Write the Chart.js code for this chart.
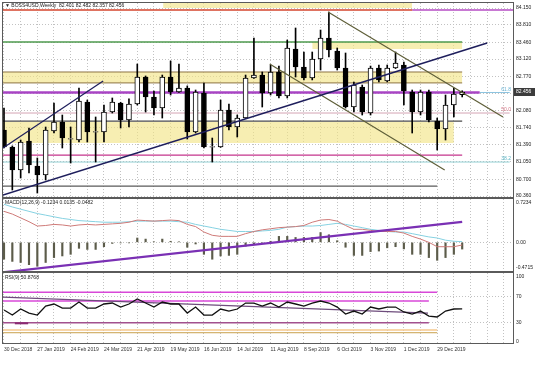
<!DOCTYPE html>
<html><head><meta charset="utf-8">
<script src="https://cdn.jsdelivr.net/npm/chart.js@4.4.1/dist/chart.umd.min.js"></script>
<style>
html,body{margin:0;padding:0;background:#fff;}
body{width:536px;height:381px;position:relative;overflow:hidden;}
canvas{position:absolute;left:0;display:block;}
</style></head>
<body>
<canvas id="main" width="536" height="198" style="top:0"></canvas>
<canvas id="macd" width="536" height="74" style="top:198px"></canvas>
<canvas id="rsi" width="536" height="109" style="top:272px"></canvas>
<script>
// ---------------- DATA ----------------
const dates = ['30 Dec 2018','27 Jan 2019','24 Feb 2019','24 Mar 2019','21 Apr 2019','19 May 2019','16 Jun 2019','14 Jul 2019','11 Aug 2019','8 Sep 2019','6 Oct 2019','3 Nov 2019','1 Dec 2019','29 Dec 2019'];
const symbolTitle = 'BOSS4USD,Weekly';
const lastQuote = ['82.401','82.482','82.357','82.456'];

const openP  = [81.690,81.348,80.884,81.469,80.965,80.783,81.670,81.852,81.509,81.489,82.255,81.650,81.650,82.053,82.235,81.892,82.215,82.759,82.356,82.134,82.759,82.457,82.537,81.650,82.436,81.348,81.348,82.094,81.751,81.932,82.739,82.799,82.436,82.860,82.376,83.323,82.961,82.739,83.122,83.545,83.283,82.940,82.154,82.557,82.033,82.940,82.678,82.940,83.001,82.457,82.053,82.457,81.872,81.711,82.194,82.401];
const highP  = [82.134,81.370,81.489,81.731,81.126,81.751,82.235,81.993,81.751,82.537,82.295,81.953,82.194,82.336,82.250,82.320,83.021,82.780,82.477,82.799,83.082,83.021,82.580,82.497,82.638,81.529,82.295,82.215,81.993,82.799,83.545,82.860,83.001,82.980,83.505,83.747,83.263,83.263,83.706,84.069,83.344,83.243,82.658,82.598,82.980,83.001,83.001,83.263,83.060,82.497,82.497,82.497,81.932,82.396,82.537,82.482];
const lowP   = [81.330,80.481,80.723,80.824,80.420,80.683,81.630,81.328,81.025,81.448,81.448,81.045,81.448,82.033,81.731,81.751,82.194,82.053,81.993,81.932,82.396,82.450,81.509,81.630,81.328,81.045,81.340,81.690,81.549,81.920,82.730,82.154,82.396,82.336,82.336,82.759,82.698,82.700,82.900,83.162,82.900,82.134,82.053,81.993,81.993,82.660,82.660,82.930,82.194,81.630,81.993,81.852,81.287,81.489,81.953,82.357];
const closeP = [81.348,80.884,81.448,80.985,80.783,81.690,81.852,81.529,81.515,82.275,81.650,81.655,82.053,82.255,81.892,82.215,82.759,82.356,82.134,82.759,82.457,82.537,81.650,82.457,81.348,81.355,82.094,81.751,81.932,82.739,82.799,82.436,82.860,82.376,83.344,82.961,82.739,83.122,83.545,83.303,82.940,82.154,82.598,82.053,82.940,82.698,82.940,83.041,82.477,82.053,82.457,81.892,81.711,82.194,82.416,82.456];
const priceTicks = [84.150,83.810,83.460,83.120,82.770,82.430,82.080,81.740,81.390,81.050,80.700,80.360];

const macdLine   = [0.57,0.52,0.45,0.38,0.30,0.31,0.33,0.32,0.30,0.32,0.33,0.32,0.33,0.34,0.35,0.37,0.41,0.40,0.39,0.40,0.41,0.40,0.33,0.29,0.19,0.13,0.11,0.11,0.11,0.16,0.20,0.23,0.25,0.27,0.28,0.29,0.31,0.37,0.41,0.42,0.39,0.31,0.24,0.24,0.22,0.20,0.20,0.20,0.17,0.11,0.06,0.00,-0.08,-0.08,-0.08,-0.0482];
const macdSignal = [0.70,0.65,0.61,0.57,0.53,0.50,0.47,0.44,0.42,0.40,0.39,0.38,0.37,0.37,0.37,0.38,0.39,0.39,0.39,0.39,0.39,0.38,0.37,0.33,0.30,0.27,0.24,0.22,0.20,0.20,0.20,0.21,0.22,0.24,0.28,0.29,0.30,0.30,0.31,0.33,0.35,0.33,0.30,0.27,0.24,0.22,0.20,0.19,0.19,0.16,0.13,0.10,0.08,0.04,0.02,0.0135];
const macdHist   = [-0.31,-0.35,-0.37,-0.41,-0.44,-0.37,-0.28,-0.25,-0.22,-0.11,-0.13,-0.13,-0.08,-0.02,-0.01,-0.01,0.08,0.06,0.01,0.06,0.02,0.01,-0.09,-0.03,-0.22,-0.31,-0.25,-0.24,-0.22,-0.07,-0.03,-0.02,0.02,0.11,0.11,0.09,0.09,0.09,0.18,0.14,0.03,-0.09,-0.24,-0.24,-0.17,-0.16,-0.10,-0.08,-0.12,-0.22,-0.22,-0.28,-0.33,-0.28,-0.22,-0.1234];
const macdTicks = [0.7234, 0, -0.4715];

const rsiVals = [49.2,41.5,50.8,44.6,41.5,55.4,58.5,52.3,52.3,61.5,52.3,52.3,58.5,60.0,53.8,58.5,66.2,60.0,53.8,61.5,58.5,58.5,44.6,53.8,41.5,41.5,50.8,47.7,50.8,60.0,60.0,55.4,60.0,53.8,61.5,58.5,55.4,60.0,63.1,60.0,53.8,43.1,47.7,43.1,53.8,50.8,53.8,53.8,46.2,43.1,47.7,40.0,38.5,47.7,50.8,50.8768];
const rsiTicks = [100, 70, 30, 0];

// drawn objects: [startWeek, endWeek, level(s)]
const zones = [[19.1,49,84.251,84.15],[37,55,83.465,83.323],[-0.12,55,82.86,82.64],[-0.12,54,81.85,81.43]];
const hLevels = [84.11,84.11,83.465,82.86,82.64,82.447,82.447,82.033,81.87,81.186,81.045,80.56];
const hSpans  = [[-0.12,49],[49,61.1],[-0.12,55],[-0.12,55],[-0.12,55],[-0.12,57.1],[57.1,60.7],[-0.12,60.7],[-0.12,55],[-0.12,55],[-0.12,60.7],[-0.12,52]];
const trendLines = [[-0.12,81.328,11.9,82.678],[-0.12,80.38,58,83.444],[38.9,84.069,59.9,81.953],[31.9,83.021,52.9,80.884]];
const fibNames  = ['61.8','50.0','38.2'];
const fibLevels = [82.447,82.033,81.045];
const macdTrend = [-0.12,-0.55,55,0.375];
const rsiLevels = [76.5,63.1,29.7,18.5,14.3];
const rsiSpans  = [[-0.12,52],[-0.12,51],[-0.12,51],[-0.12,52],[-0.12,52]];
const rsiMark   = [1.3,2.9,28.8];
const rsiTrend  = [-0.12,69.2,50.9,44.6];

// ---------------- STYLE / BUILD ----------------
Chart.defaults.font.family = "'Liberation Sans', Arial, sans-serif";
const FONT = "5px 'Liberation Sans', Arial, sans-serif";
const X_MIN = -0.12, X_MAX = 61.1;
const GRID = '#c2c2c2';
const hStyles = [
  ['#d4452c',1.5],['#b64cc4',1.5],['#4e9a4e',1.5],['#8c7444',1],['#8c7444',1],
  ['#a844c4',2.5],['#8cc4e0',1],['#d4a4b4',1],['#4a4a4a',1.2],['#c4348c',1.2],['#94d0d4',1],['#5a5a5a',1.2]];
const trendStyles = [['#1e1e5c',1.2],['#1e1e5c',1.5],['#5e5e38',1.2],['#5e5e38',1.2]];
const fibColors = ['#6ab4d4','#d47484','#5cb4c4'];
const rsiStyles = [['#d848d8',1.5],['#d848d8',1.5],['#a2508e',1.5],['#f6c88e',1.5],['#c8a04c',1]];

function seg(x0,y0,x1,y1,color,w,order,extra){
  return Object.assign({type:'line',data:[{x:x0,y:y0},{x:x1,y:y1}],borderColor:color,borderWidth:w,
    pointRadius:0,fill:false,tension:0,order:order}, extra||{});
}
function xAxis(withLabels){
  return {type:'linear',min:X_MIN,max:X_MAX,offset:false,
    afterBuildTicks:s=>{const t=[];for(let v=0;v<=60;v+=2)t.push({value:v});s.ticks=t;},
    afterFit:s=>{s.height=withLabels?38:0;s.paddingLeft=0;s.paddingRight=0;},
    grid:{color:GRID,lineWidth:1,drawTicks:false,offset:false},
    border:{display:false,dash:[1,2]},
    ticks:{display:withLabels,autoSkip:false,maxRotation:0,minRotation:0,align:'start',padding:4,
      font:{size:5},color:'#333',
      callback:v=>(v%4===0&&v/4<dates.length)?dates[v/4]:''}
  };
}
function yAxis(min,max,ticks,labelFn,gridFn){
  return {position:'right',min:min,max:max,
    afterBuildTicks:s=>{s.ticks=ticks.map(v=>({value:v}));},
    afterFit:s=>{s.width=23;s.paddingTop=0;s.paddingBottom=0;},
    grid:{drawTicks:false,color:gridFn||GRID,lineWidth:1},
    border:{display:false,dash:[1,2]},
    ticks:{padding:3,font:{size:5},color:'#222',callback:labelFn}
  };
}
const frame = {id:'frame',afterDraw(chart){
  const {ctx,chartArea:a}=chart; ctx.save(); ctx.strokeStyle='#5a5a5a'; ctx.lineWidth=1;
  ctx.strokeRect(a.left-0.5,a.top-0.5,a.right-a.left+1,a.bottom-a.top+1); ctx.restore();}};
const baseOpts = {responsive:false,animation:false,events:[],devicePixelRatio:1,
  plugins:{legend:{display:false},tooltip:{enabled:false}}};

// ---- main price panel ----
const idx = openP.map((_,i)=>i);
const bodyData = idx.map(i=>{let a=Math.min(openP[i],closeP[i]),b=Math.max(openP[i],closeP[i]);
  if(b-a<0.012){const m=(a+b)/2;a=m-0.006;b=m+0.006;} return {x:i,y:[a,b]};});
const wickData = idx.map(i=>({x:i,y:[lowP[i],highP[i]]}));
const bodyFill = idx.map(i=>closeP[i]>=openP[i]?'#ffffff':'#000000');

const mainSets = [];
zones.forEach(z=>mainSets.push(seg(z[0],z[2],z[1],z[2],'rgba(0,0,0,0)',0,30,
  {backgroundColor:'rgba(242,228,130,0.62)',fill:{value:z[3]}})));
hLevels.forEach((v,i)=>mainSets.push(seg(hSpans[i][0],v,hSpans[i][1],v,hStyles[i][0],hStyles[i][1],20)));
mainSets.push({type:'bar',data:wickData,backgroundColor:'#000',borderWidth:0,barThickness:1,grouped:false,order:6});
mainSets.push({type:'bar',data:bodyData,backgroundColor:bodyFill,borderColor:'#000',borderWidth:1,
  borderSkipped:false,barThickness:5,grouped:false,order:5});
trendLines.forEach((t,i)=>mainSets.push(seg(t[0],t[1],t[2],t[3],trendStyles[i][0],trendStyles[i][1],1)));

const mainText = {id:'mainText',afterDraw(chart){
  const {ctx,chartArea:a,scales:{y}}=chart; ctx.save(); ctx.font=FONT; ctx.textBaseline='middle';
  ctx.textAlign='right';
  fibLevels.forEach((v,i)=>{ctx.fillStyle=fibColors[i]; ctx.fillText(fibNames[i],a.right-2,y.getPixelForValue(v)-3);});
  const py=y.getPixelForValue(parseFloat(lastQuote[3]));
  ctx.fillStyle='#3c3c3c'; ctx.fillRect(a.right+1,Math.round(py)-4,21,8);
  ctx.fillStyle='#fff'; ctx.textAlign='left'; ctx.fillText(lastQuote[3],a.right+3,py);
  ctx.fillStyle='#222'; ctx.fillText('\u25BC '+symbolTitle+'  '+lastQuote.join(' '),a.left+2,a.top+3);
  ctx.restore();}};

new Chart(document.getElementById('main'),{type:'bar',data:{datasets:mainSets},
  options:Object.assign({},baseOpts,{layout:{padding:{left:3,right:0,top:3,bottom:1}},
    scales:{x:xAxis(false),y:yAxis(80.34,84.251,priceTicks,(v,i)=>priceTicks[i]===82.430?'':priceTicks[i].toFixed(3))}}),
  plugins:[frame,mainText]});

// ---- MACD panel ----
const macdSets = [
  {type:'bar',data:idx.map(i=>({x:i,y:macdHist[i]})),backgroundColor:'#5c5c4a',borderWidth:0,barThickness:1.5,grouped:false,order:5},
  {type:'line',data:idx.map(i=>({x:i,y:macdSignal[i]})),borderColor:'#86d2e2',borderWidth:1,pointRadius:0,tension:0,order:3},
  {type:'line',data:idx.map(i=>({x:i,y:macdLine[i]})),borderColor:'#cf7a78',borderWidth:1,pointRadius:0,tension:0,order:2},
  seg(macdTrend[0],macdTrend[1],macdTrend[2],macdTrend[3],'#7a30b4',2.2,1)
];
const macdText = {id:'macdText',afterDraw(chart){
  const {ctx,chartArea:a}=chart; ctx.save(); ctx.font=FONT; ctx.textBaseline='middle'; ctx.fillStyle='#222';
  ctx.fillText('MACD(12,26,9) '+macdHist[macdHist.length-1].toFixed(4)+' '+macdSignal[macdSignal.length-1].toFixed(4)+' '+macdLine[macdLine.length-1].toFixed(4),a.left+2,a.top+4);
  ctx.restore();}};
new Chart(document.getElementById('macd'),{type:'bar',data:{datasets:macdSets},
  options:Object.assign({},baseOpts,{layout:{padding:{left:3,right:0,top:1,bottom:1}},
    scales:{x:xAxis(false),y:yAxis(-0.5266,0.797,macdTicks,v=>v===0?'0.00':String(v),
      c=>(c.tick&&c.tick.value===0)?GRID:'rgba(0,0,0,0)')}}),
  plugins:[frame,macdText]});

// ---- RSI panel ----
const rsiSets = [];
rsiLevels.forEach((v,i)=>rsiSets.push(seg(rsiSpans[i][0],v,rsiSpans[i][1],v,rsiStyles[i][0],rsiStyles[i][1],10)));
rsiSets.push(seg(rsiMark[0],rsiMark[2],rsiMark[1],rsiMark[2],'#8a2a72',2,9));
rsiSets.push(seg(rsiTrend[0],rsiTrend[1],rsiTrend[2],rsiTrend[3],'#6e4c7c',1.2,8));
rsiSets.push({type:'line',data:idx.map(i=>({x:i,y:rsiVals[i]})),borderColor:'#111',borderWidth:1.3,pointRadius:0,tension:0,order:1});
const rsiText = {id:'rsiText',afterDraw(chart){
  const {ctx,chartArea:a}=chart; ctx.save(); ctx.font=FONT; ctx.textBaseline='middle'; ctx.fillStyle='#222';
  ctx.fillText('RSI(9) '+rsiVals[rsiVals.length-1].toFixed(4),a.left+2,a.top+5);
  ctx.restore();}};
new Chart(document.getElementById('rsi'),{type:'bar',data:{datasets:rsiSets},
  options:Object.assign({},baseOpts,{layout:{padding:{left:3,right:0,top:1,bottom:0}},
    scales:{x:xAxis(true),y:yAxis(-1.5,106.2,rsiTicks,v=>String(v),
      c=>(c.tick&&(c.tick.value===70||c.tick.value===30))?GRID:'rgba(0,0,0,0)')}}),
  plugins:[frame,rsiText]});
</script>
</body></html>
